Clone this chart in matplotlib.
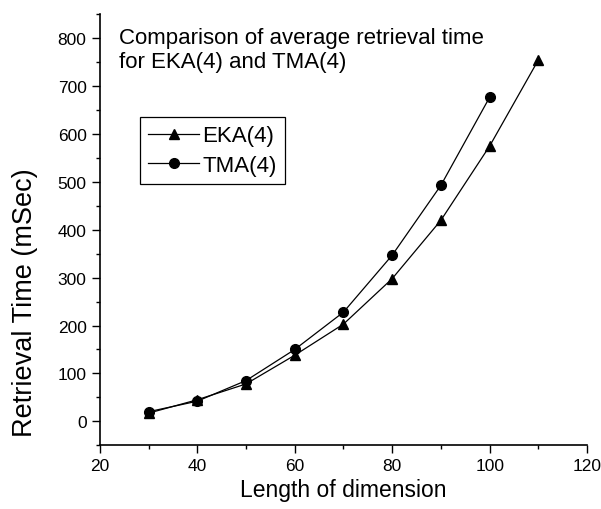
import matplotlib
matplotlib.use("Agg")
import matplotlib.pyplot as plt
from matplotlib.ticker import MultipleLocator

plt.rcParams['font.family'] = ['Liberation Sans', 'DejaVu Sans']

x_eka = [30, 40, 50, 60, 70, 80, 90, 100, 110]
eka = [17, 45, 78, 138, 203, 298, 420, 575, 755]
x_tma = [30, 40, 50, 60, 70, 80, 90, 100]
tma = [20, 42, 85, 150, 228, 347, 493, 677]

fig = plt.figure(figsize=(6.01, 5.10), dpi=100)
ax = fig.add_axes([0.166, 0.125, 0.811, 0.845])

ax.plot(x_eka, eka, color='black', lw=0.9, marker='^', ms=7.5, label='EKA(4)')
ax.plot(x_tma, tma, color='black', lw=0.9, marker='o', ms=7, label='TMA(4)')

ax.set_xlim(20, 120)
ax.set_ylim(-50, 850)
ax.xaxis.set_major_locator(MultipleLocator(20))
ax.xaxis.set_minor_locator(MultipleLocator(10))
ax.yaxis.set_major_locator(MultipleLocator(100))
ax.yaxis.set_minor_locator(MultipleLocator(50))
ax.set_yticks(range(0, 801, 100))
ax.spines['top'].set_visible(False)
ax.spines['right'].set_visible(False)
ax.spines['left'].set_linewidth(1.2)
ax.spines['bottom'].set_linewidth(1.2)
ax.tick_params(which='major', direction='out', length=6, width=1, labelsize=12.5)
ax.tick_params(which='minor', direction='out', length=3, width=1)

ax.set_xlabel('Length of dimension', fontsize=16.5, labelpad=3)
ax.set_ylabel('Retrieval Time (mSec)', fontsize=19.5)
ax.yaxis.set_label_coords(-0.127, 0.334)

ax.text(0.04, 0.97, 'Comparison of average retrieval time\nfor EKA(4) and TMA(4)',
        transform=ax.transAxes, fontsize=16, va='top', ha='left', linespacing=1.15)

leg = ax.legend(loc='upper left', bbox_to_anchor=(0.082, 0.762), fontsize=16,
                frameon=True, fancybox=False, edgecolor='black', framealpha=1,
                handlelength=2.3, borderpad=0.38, labelspacing=0.38, handletextpad=0.15,
                borderaxespad=0)
leg.get_frame().set_linewidth(0.9)

fig.savefig('out.png', dpi=100)
